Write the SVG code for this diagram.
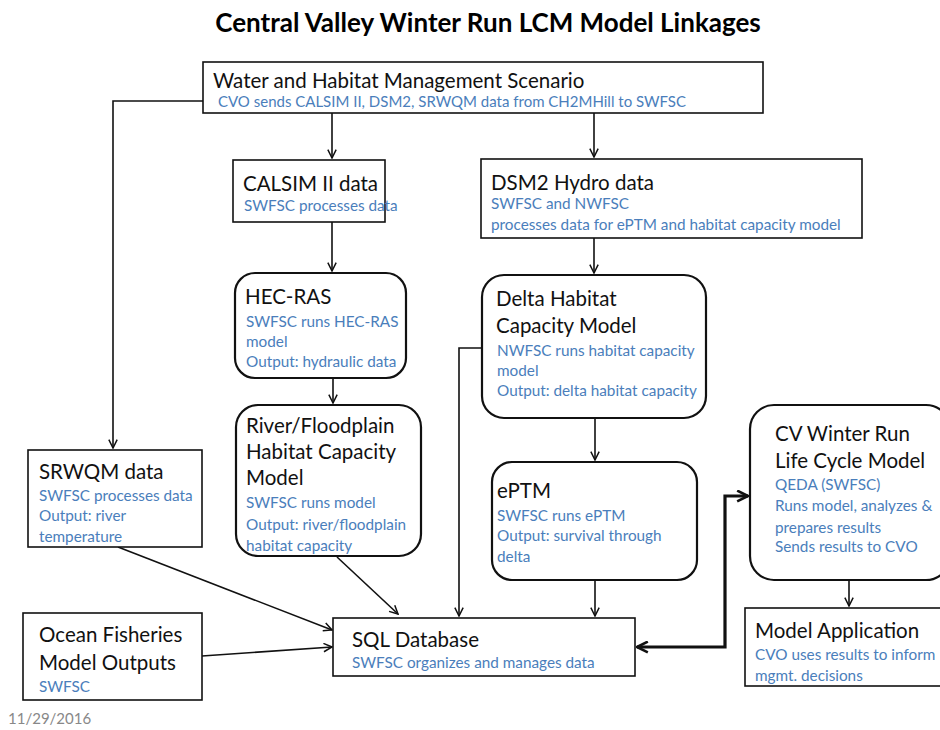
<svg xmlns="http://www.w3.org/2000/svg" width="940" height="730" viewBox="0 0 940 730">
<style>
.bx{fill:#fff;stroke:#111;stroke-width:1.6}
.rb{fill:#fff;stroke:#111;stroke-width:2.2}
.t{font-family:Lato,"Liberation Sans",sans-serif;font-size:20.5px;fill:#111}
.b{font-family:Lato,"Liberation Sans",sans-serif;font-size:15.3px;fill:#4a7ebb}
.ln{fill:none;stroke:#111;stroke-width:1.6}
.thk{fill:none;stroke:#111;stroke-width:3.2}
</style>
<defs>
<marker id="ar" viewBox="0 0 12 12" refX="11" refY="6" markerWidth="10" markerHeight="10" markerUnits="userSpaceOnUse" orient="auto">
<path d="M1,1 L11,6 L1,11" fill="none" stroke="#111" stroke-width="1.8"/>
</marker>
<marker id="ar2" viewBox="0 0 12 12" refX="11" refY="6" markerWidth="13" markerHeight="13" markerUnits="userSpaceOnUse" orient="auto-start-reverse">
<path d="M1,1 L11,6 L1,11" fill="none" stroke="#111" stroke-width="2.4"/>
</marker>
</defs>
<rect width="940" height="730" fill="#fff"/>
<text x="488" y="32" text-anchor="middle" font-family="Lato,'Liberation Sans',sans-serif" font-size="26" font-weight="bold" fill="#000">Central Valley Winter Run LCM Model Linkages</text>

<g id="connectors">
<path class="ln" d="M203,101 H113 V448" marker-end="url(#ar)"/>
<path class="ln" d="M332,113 V158" marker-end="url(#ar)"/>
<path class="ln" d="M594,113 V157" marker-end="url(#ar)"/>
<path class="ln" d="M332,222 V271" marker-end="url(#ar)"/>
<path class="ln" d="M594,238 V273" marker-end="url(#ar)"/>
<path class="ln" d="M333,378 V403" marker-end="url(#ar)"/>
<path class="ln" d="M595,418 V460" marker-end="url(#ar)"/>
<path class="ln" d="M482,348 H459 V616" marker-end="url(#ar)"/>
<path class="ln" d="M595,580 V616" marker-end="url(#ar)"/>
<path class="ln" d="M337,557 L398,614" marker-end="url(#ar)"/>
<path class="ln" d="M118,547 L332,630" marker-end="url(#ar)"/>
<path class="ln" d="M202,656 L332,647" marker-end="url(#ar)"/>
<path class="thk" d="M637,647 H725 V496 H748" marker-start="url(#ar2)" marker-end="url(#ar2)"/>
<path class="ln" d="M849,581 V606" marker-end="url(#ar)"/>
</g>

<g id="water">
<rect class="bx" x="203" y="62" width="560" height="51"/>
<text class="t" x="213" y="88">Water and Habitat Management Scenario</text>
<text class="b" x="218" y="107" style="font-size:15px">CVO sends CALSIM II, DSM2, SRWQM data from CH2MHill to SWFSC</text>
</g>
<g id="calsim">
<rect class="bx" x="233" y="160" width="152" height="62"/>
<text class="t" x="243" y="191">CALSIM II data</text>
<text class="b" x="244" y="211">SWFSC processes data</text>
</g>
<g id="dsm2">
<rect class="bx" x="481" y="159" width="381" height="79"/>
<text class="t" x="491" y="190">DSM2 Hydro data</text>
<text class="b" x="491" y="209">SWFSC and NWFSC</text>
<text class="b" x="491" y="230">processes data for ePTM and habitat capacity model</text>
</g>
<g id="hecras">
<rect class="rb" x="235" y="273" width="171" height="105" rx="20"/>
<text class="t" x="245" y="304">HEC-RAS</text>
<text class="b" x="246" y="327">SWFSC runs HEC-RAS</text>
<text class="b" x="246" y="347">model</text>
<text class="b" x="246" y="367">Output: hydraulic data</text>
</g>
<g id="delta">
<rect class="rb" x="482" y="275" width="224" height="143" rx="22"/>
<text class="t" x="496" y="306">Delta Habitat</text>
<text class="t" x="496" y="333">Capacity Model</text>
<text class="b" x="497" y="356">NWFSC runs habitat capacity</text>
<text class="b" x="497" y="376">model</text>
<text class="b" x="497" y="396">Output: delta habitat capacity</text>
</g>
<g id="river">
<rect class="rb" x="236" y="405" width="185" height="151" rx="22"/>
<text class="t" x="246" y="433">River/Floodplain</text>
<text class="t" x="246" y="459">Habitat Capacity</text>
<text class="t" x="246" y="485">Model</text>
<text class="b" x="246" y="508">SWFSC runs model</text>
<text class="b" x="246" y="530">Output: river/floodplain</text>
<text class="b" x="246" y="551">habitat capacity</text>
</g>
<g id="srwqm">
<rect class="bx" x="28" y="450" width="174" height="97"/>
<text class="t" x="39" y="479">SRWQM data</text>
<text class="b" x="39" y="501">SWFSC processes data</text>
<text class="b" x="39" y="521">Output: river</text>
<text class="b" x="39" y="542">temperature</text>
</g>
<g id="eptm">
<rect class="rb" x="492" y="462" width="205" height="118" rx="20"/>
<text class="t" x="497" y="498">ePTM</text>
<text class="b" x="497" y="521">SWFSC runs ePTM</text>
<text class="b" x="497" y="541">Output: survival through</text>
<text class="b" x="497" y="562">delta</text>
</g>
<g id="lcm">
<rect class="rb" x="750" y="405" width="200" height="175" rx="24"/>
<text class="t" x="775" y="441">CV Winter Run</text>
<text class="t" x="775" y="468">Life Cycle Model</text>
<text class="b" x="775" y="490">QEDA (SWFSC)</text>
<text class="b" x="775" y="511">Runs model, analyzes &amp;</text>
<text class="b" x="775" y="533">prepares results</text>
<text class="b" x="775" y="552">Sends results to CVO</text>
</g>
<g id="modelapp">
<rect class="bx" x="745" y="608" width="200" height="78"/>
<text class="t" x="755" y="638">Model Application</text>
<text class="b" x="755" y="660">CVO uses results to inform</text>
<text class="b" x="755" y="681">mgmt. decisions</text>
</g>
<g id="sql">
<rect class="bx" x="333" y="618" width="302" height="58"/>
<text class="t" x="352" y="647">SQL Database</text>
<text class="b" x="352" y="668">SWFSC organizes and manages data</text>
</g>
<g id="ocean">
<rect class="bx" x="23" y="613" width="179" height="87"/>
<text class="t" x="39" y="642">Ocean Fisheries</text>
<text class="t" x="39" y="670">Model Outputs</text>
<text class="b" x="39" y="692">SWFSC</text>
</g>
<text x="8" y="724" font-family="Lato,'Liberation Sans',sans-serif" font-size="15" fill="#888">11/29/2016</text>
</svg>
